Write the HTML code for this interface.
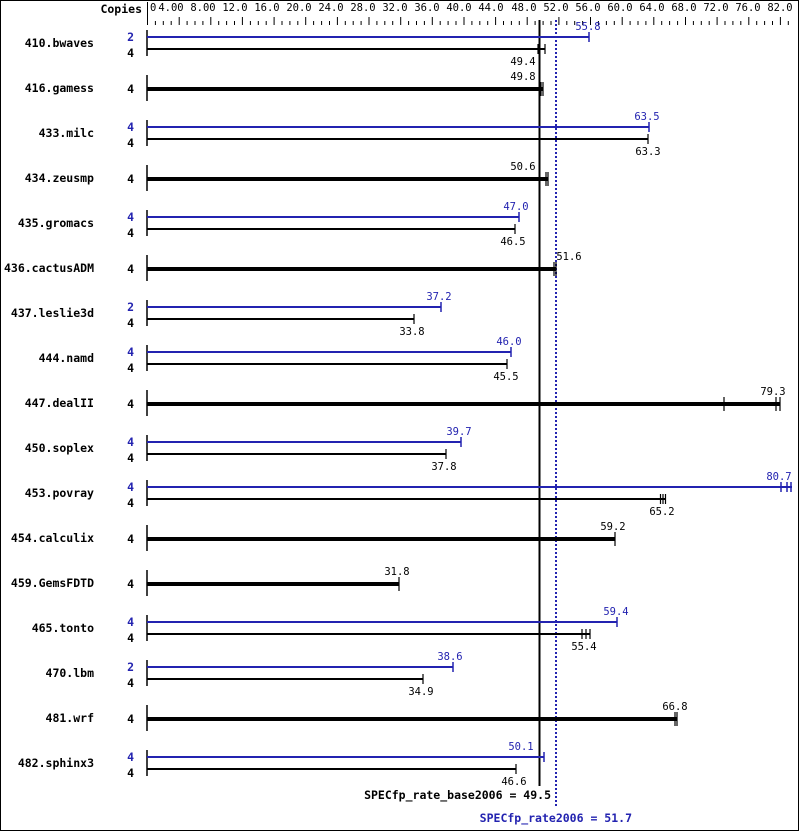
<!DOCTYPE html>
<html><head><meta charset="utf-8"><style>
html,body{margin:0;padding:0;background:#fff}
svg{display:block}
text{font-family:"DejaVu Sans Mono","Liberation Mono",monospace}
.n{font-size:11.5px;font-weight:bold;text-anchor:end}
.c{font-size:11.5px;font-weight:bold;text-anchor:end}
.v{font-size:10.5px;text-anchor:middle}
.t{font-size:10.5px;text-anchor:middle}
.b{fill:#2323b0}
</style></head><body>
<svg width="799" height="831" viewBox="0 0 799 831" xmlns="http://www.w3.org/2000/svg">
<rect x="0.5" y="0.5" width="798" height="830" fill="#fff" stroke="#000"/>
<text x="142" y="13" class="c">Copies</text>
<line x1="147.5" y1="2" x2="147.5" y2="25" stroke="#000"/>
<g stroke="#000">
<path d="M155.4 21V25M163.3 21V25M171.2 21V25M179.2 17V25M187.1 21V25M195 21V25M202.9 21V25M210.8 17V25M218.7 21V25M226.6 21V25M234.5 21V25M242.4 17V25M250.4 21V25M258.3 21V25M266.2 21V25M274.1 17V25M282 21V25M289.9 21V25M297.8 21V25M305.7 17V25M313.6 21V25M321.6 21V25M329.5 21V25M337.4 17V25M345.3 21V25M353.2 21V25M361.1 21V25M369 17V25M376.9 21V25M384.8 21V25M392.7 21V25M400.7 17V25M408.6 21V25M416.5 21V25M424.4 21V25M432.3 17V25M440.2 21V25M448.1 21V25M456 21V25M464 17V25M471.9 21V25M479.8 21V25M487.7 21V25M495.6 17V25M503.5 21V25M511.4 21V25M519.3 21V25M527.2 17V25M535.1 21V25M543.1 21V25M551 21V25M558.9 17V25M566.8 21V25M574.7 21V25M582.6 21V25M590.5 17V25M598.4 21V25M606.4 21V25M614.3 21V25M622.2 17V25M630.1 21V25M638 21V25M645.9 21V25M653.8 17V25M661.7 21V25M669.6 21V25M677.6 21V25M685.5 17V25M693.4 21V25M701.3 21V25M709.2 21V25M717.1 17V25M725 21V25M732.9 21V25M740.8 21V25M748.8 17V25M756.7 21V25M764.6 21V25M772.5 21V25M780.4 17V25M788.3 21V25"/>
</g>
<g class="t">
<text x="150" y="11" style="text-anchor:start">0</text>
<text x="171" y="11">4.00</text><text x="203" y="11">8.00</text><text x="235" y="11">12.0</text><text x="267" y="11">16.0</text><text x="299" y="11">20.0</text><text x="331" y="11">24.0</text><text x="363" y="11">28.0</text><text x="395" y="11">32.0</text><text x="427" y="11">36.0</text><text x="459" y="11">40.0</text><text x="491" y="11">44.0</text><text x="524" y="11">48.0</text><text x="556" y="11">52.0</text><text x="588" y="11">56.0</text><text x="620" y="11">60.0</text><text x="652" y="11">64.0</text><text x="684" y="11">68.0</text><text x="716" y="11">72.0</text><text x="748" y="11">76.0</text><text x="780" y="11">82.0</text>
</g>

<g stroke="#000" stroke-width="1.5">
<path d="M147 30V56M147 75V101M147 120V146M147 165V191M147 210V236M147 255V281M147 300V326M147 345V371M147 390V416M147 435V461M147 480V506M147 525V551M147 570V596M147 615V641M147 660V686M147 705V731M147 750V776"/>
</g>

<g class="n">
<text x="94" y="47">410.bwaves</text><text x="94" y="92">416.gamess</text><text x="94" y="137">433.milc</text><text x="94" y="182">434.zeusmp</text><text x="94" y="227">435.gromacs</text><text x="94" y="272">436.cactusADM</text><text x="94" y="317">437.leslie3d</text><text x="94" y="362">444.namd</text><text x="94" y="407">447.dealII</text><text x="94" y="452">450.soplex</text><text x="94" y="497">453.povray</text><text x="94" y="542">454.calculix</text><text x="94" y="587">459.GemsFDTD</text><text x="94" y="632">465.tonto</text><text x="94" y="677">470.lbm</text><text x="94" y="722">481.wrf</text><text x="94" y="767">482.sphinx3</text>
</g>

<g class="c">
<text x="134" y="41" class="b">2</text><text x="134" y="57">4</text>
<text x="134" y="93">4</text>
<text x="134" y="131" class="b">4</text><text x="134" y="147">4</text>
<text x="134" y="183">4</text>
<text x="134" y="221" class="b">4</text><text x="134" y="237">4</text>
<text x="134" y="273">4</text>
<text x="134" y="311" class="b">2</text><text x="134" y="327">4</text>
<text x="134" y="356" class="b">4</text><text x="134" y="372">4</text>
<text x="134" y="408">4</text>
<text x="134" y="446" class="b">4</text><text x="134" y="462">4</text>
<text x="134" y="491" class="b">4</text><text x="134" y="507">4</text>
<text x="134" y="543">4</text>
<text x="134" y="588">4</text>
<text x="134" y="626" class="b">4</text><text x="134" y="642">4</text>
<text x="134" y="671" class="b">2</text><text x="134" y="687">4</text>
<text x="134" y="723">4</text>
<text x="134" y="761" class="b">4</text><text x="134" y="777">4</text>
</g>

<line x1="539.5" y1="20" x2="539.5" y2="786" stroke="#000" stroke-width="2"/>
<line x1="556" y1="20" x2="556" y2="808" stroke="#2323b0" stroke-width="2" stroke-dasharray="2,2"/>

<g stroke="#2323b0" stroke-width="2" fill="none">
<path d="M147 37H589M147 127H649M147 217H519M147 307H441M147 352H511M147 442H461M147 487H792M147 622H617M147 667H453M147 757H544"/>
</g>
<g stroke="#2323b0" stroke-width="1.5" fill="none">
<path d="M589 32V42M649 122V132M519 212V222M441 302V312M511 347V357M461 437V447M781 482V492M787 482V492M791 482V492M617 617V627M453 662V672M544 752V762"/>
</g>
<g stroke="#000" stroke-width="2" fill="none">
<path d="M147 49H545M147 139H648M147 229H515M147 319H414M147 364H507M147 454H446M147 499H665M147 634H590M147 679H423M147 769H516"/>
</g>
<g stroke="#000" stroke-width="1.2" fill="none">
<path d="M538 44V54M545 44V54M648 134V144M515 224V234M414 314V324M507 359V369M446 449V459M660.5 494V504M663 494V504M665.5 494V504M582 629V639M586 629V639M590 629V639M423 674V684M516 764V774"/>
</g>
<g stroke="#000" fill="none">
<path d="M147 89H543M147 179H548M147 269H556M147 404H780M147 539H615M147 584H399M147 719H677" stroke-width="4"/>
<path d="M541 82V96M543 82V96M546 172V186M548 172V186M554 262V276M556 262V276M724 397V411M776 397V411M780 397V411M615 532V546M399 577V591M675 712V726M677 712V726" stroke-width="1.2"/>
</g>

<g class="v">
<text x="588" y="30" class="b">55.8</text><text x="523" y="65">49.4</text>
<text x="523" y="80">49.8</text>
<text x="647" y="120" class="b">63.5</text><text x="648" y="155">63.3</text>
<text x="523" y="170">50.6</text>
<text x="516" y="210" class="b">47.0</text><text x="513" y="245">46.5</text>
<text x="569" y="260">51.6</text>
<text x="439" y="300" class="b">37.2</text><text x="412" y="335">33.8</text>
<text x="509" y="345" class="b">46.0</text><text x="506" y="380">45.5</text>
<text x="773" y="395">79.3</text>
<text x="459" y="435" class="b">39.7</text><text x="444" y="470">37.8</text>
<text x="779" y="480" class="b">80.7</text><text x="662" y="515">65.2</text>
<text x="613" y="530">59.2</text>
<text x="397" y="575">31.8</text>
<text x="616" y="615" class="b">59.4</text><text x="584" y="650">55.4</text>
<text x="450" y="660" class="b">38.6</text><text x="421" y="695">34.9</text>
<text x="675" y="710">66.8</text>
<text x="521" y="750" class="b">50.1</text><text x="514" y="785">46.6</text>
</g>

<text x="551" y="799" class="n">SPECfp_rate_base2006 = 49.5</text>
<text x="632" y="822" class="n b">SPECfp_rate2006 = 51.7</text>
</svg>
</body></html>
